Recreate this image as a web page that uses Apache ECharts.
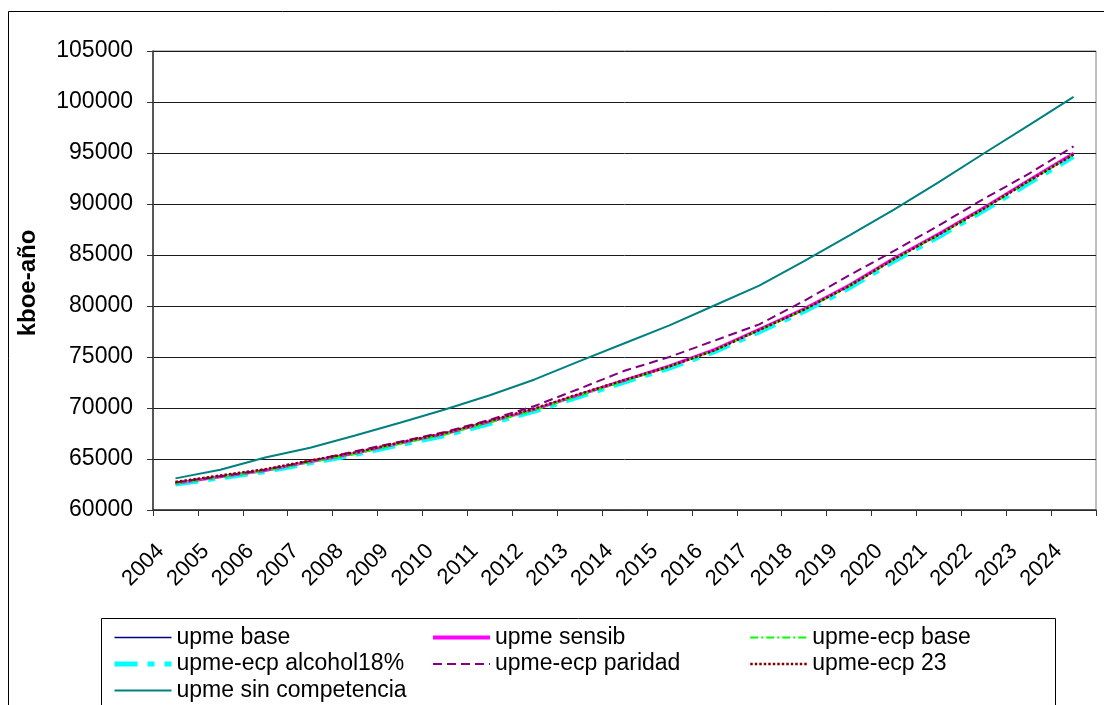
<!DOCTYPE html>
<html>
<head>
<meta charset="utf-8">
<script src="https://cdn.jsdelivr.net/npm/echarts@6/dist/echarts.min.js"></script>
<style>
  html, body { margin: 0; padding: 0; background: #fff; }
  #chart { width: 1104px; height: 705px; }
</style>
</head>
<body>
<div id="chart"></div>
<script>
// Demanda proyectada (kboe-año), 2004-2024
const years = ['2004','2005','2006','2007','2008','2009','2010','2011','2012','2013','2014',
               '2015','2016','2017','2018','2019','2020','2021','2022','2023','2024'];

const upmeBase      = [62650, 63280, 63900, 64750, 65550, 66550, 67450, 68650, 69850, 71300, 72700, 74100, 75700, 77700, 79700, 82000, 84650, 87050, 89600, 92300, 94950];
const upmeSensib    = [62620, 63260, 63880, 64740, 65560, 66560, 67470, 68660, 69870, 71300, 72720, 74120, 75720, 77720, 79720, 82020, 84670, 87080, 89630, 92330, 94980];
const ecpBase       = [62600, 63230, 63850, 64680, 65500, 66490, 67400, 68580, 69790, 71230, 72640, 74040, 75630, 77620, 79620, 81920, 84560, 86960, 89500, 92200, 94850];
const ecpAlcohol18  = [62500, 63100, 63720, 64570, 65380, 66350, 67250, 68430, 69640, 71080, 72480, 73860, 75450, 77420, 79420, 81700, 84350, 86750, 89300, 91980, 94600];
const ecpParidad    = [62700, 63300, 63950, 64800, 65750, 66700, 67650, 68850, 70200, 71900, 73650, 75000, 76600, 78200, 80500, 83000, 85400, 87900, 90500, 92950, 95650];
const ecp23         = [62750, 63380, 64000, 64850, 65650, 66620, 67550, 68750, 69950, 71380, 72740, 74080, 75650, 77650, 79650, 81950, 84600, 87000, 89550, 92250, 94850];
const sinCompetencia= [63100, 63950, 65150, 66100, 67300, 68550, 69850, 71250, 72800, 74600, 76350, 78100, 80050, 82000, 84400, 86900, 89450, 92150, 94950, 97700, 100500];

const yMin = 60000, yMax = 105000, yStep = 5000;

const FONT = "'Liberation Sans', Arial, sans-serif";

// line look of every series: colour, width, dash pattern
const styles = {
  'upme base':            { color: '#000080', width: 1.5, type: 'solid' },
  'upme sensib':          { color: '#FF00FF', width: 3,   type: 'solid' },
  'upme-ecp base':        { color: '#00FF00', width: 2,   type: [8, 3, 2, 3] },
  'upme-ecp alcohol18%':  { color: '#00FFFF', width: 4,   type: [23, 10, 7, 10] },
  'upme-ecp paridad':     { color: '#800080', width: 2,   type: [9, 5] },
  'upme-ecp 23':          { color: '#800000', width: 2.5, type: [2.5, 2] },
  'upme sin competencia': { color: '#008080', width: 2,   type: 'solid' }
};

function lineSeries(name, data, z) {
  const s = styles[name];
  return {
    name: name,
    type: 'line',
    data: data,
    symbol: 'none',
    smooth: false,
    z: z,
    lineStyle: { color: s.color, width: s.width, type: s.type, cap: 'butt' },
    itemStyle: { color: s.color },
    emphasis: { disabled: true }
  };
}

const legendText = { color: '#000', fontSize: 23, fontFamily: FONT, lineHeight: 26 };
function legendCol(left, names) {
  return {
    orient: 'vertical',
    left: left,
    top: 624.5,
    itemWidth: 57,
    itemHeight: 12,
    itemGap: 0.5,
    padding: 0,
    selectedMode: false,
    // only the line sample is shown next to each name
    itemStyle: { color: 'transparent', borderColor: 'transparent', borderWidth: 0 },
    textStyle: legendText,
    data: names.map(function (n) {
      const w = n === 'upme-ecp alcohol18%' ? 5 : (n === 'upme sensib' ? 4 : styles[n].width);
      return { name: n, lineStyle: { width: w, type: styles[n].type, color: styles[n].color } };
    })
  };
}

const chart = echarts.init(document.getElementById('chart'), null, { renderer: 'canvas' });
chart.setOption({
  animation: false,
  backgroundColor: '#fff',
  grid: {
    left: 153, top: 51, width: 943, height: 459,
    show: true, borderColor: '#808080', borderWidth: 1, backgroundColor: 'transparent'
  },
  xAxis: {
    type: 'category',
    data: years,
    boundaryGap: true,
    axisLine: { lineStyle: { color: '#333', width: 1.5 } },
    axisTick: { show: true, length: 6, alignWithLabel: false, lineStyle: { color: '#333' } },
    axisLabel: {
      rotate: 45, interval: 0, margin: 23, hideOverlap: false,
      color: '#000', fontSize: 22, fontFamily: FONT,
      padding: [0, 21, 0, 0]
    },
    splitLine: { show: false }
  },
  yAxis: {
    type: 'value',
    min: yMin, max: yMax, interval: yStep,
    axisLine: { show: true, lineStyle: { color: '#333', width: 1.5 } },
    axisTick: { show: true, length: 6, lineStyle: { color: '#333' } },
    axisLabel: { margin: 20, color: '#000', fontSize: 23, fontFamily: FONT,
                 formatter: function (v) { return String(v); } },
    splitLine: { show: true, lineStyle: { color: '#1a1a1a', width: 1 } }
  },
  legend: [
    legendCol(112, ['upme base', 'upme-ecp alcohol18%', 'upme sin competencia']),
    legendCol(431, ['upme sensib', 'upme-ecp paridad']),
    legendCol(749, ['upme-ecp base', 'upme-ecp 23'])
  ],
  graphic: [
    { type: 'rect', silent: true, z: -10,
      shape: { x: 8.5, y: 11.5, width: 1300, height: 900 },
      style: { fill: 'none', stroke: '#000', lineWidth: 1 } },
    { type: 'rect', silent: true, z: -5,
      shape: { x: 101.5, y: 618.5, width: 954, height: 200 },
      style: { fill: 'none', stroke: '#000', lineWidth: 1 } },
    { type: 'text', silent: true,
      x: 28, y: 283, rotation: Math.PI / 2,
      style: { text: 'kboe-año', fill: '#000', font: "bold 24px 'Liberation Sans', Arial, sans-serif",
               textAlign: 'center', textVerticalAlign: 'middle' } }
  ],
  series: [
    lineSeries('upme-ecp alcohol18%', ecpAlcohol18, 2),
    lineSeries('upme base', upmeBase, 3),
    lineSeries('upme sensib', upmeSensib, 4),
    lineSeries('upme-ecp base', ecpBase, 5),
    lineSeries('upme-ecp paridad', ecpParidad, 6),
    lineSeries('upme-ecp 23', ecp23, 7),
    lineSeries('upme sin competencia', sinCompetencia, 8)
  ]
});
</script>
</body>
</html>
